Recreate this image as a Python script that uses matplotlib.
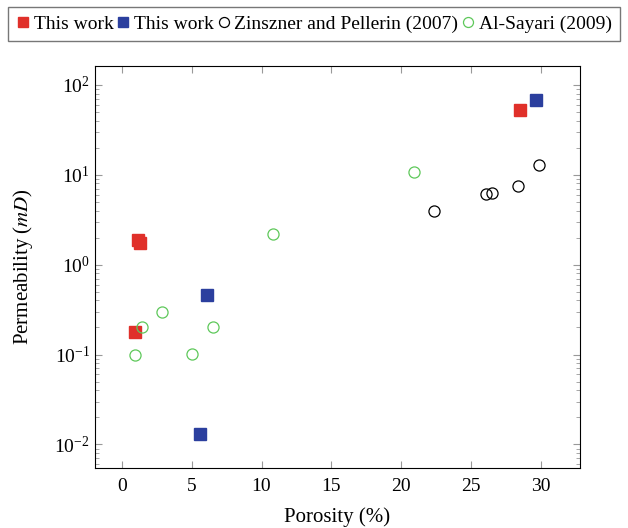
import matplotlib
matplotlib.use("Agg")
import matplotlib.pyplot as plt
from matplotlib.ticker import LogLocator, MultipleLocator

plt.rcParams['font.family'] = ['Liberation Serif', 'DejaVu Serif']
plt.rcParams['mathtext.fontset'] = 'stix'

# this work (red)
red_x = [1.15, 1.3, 0.9, 28.5]
red_y = [1.9, 1.75, 0.18, 52]
# this work (blue)
blue_x = [29.7, 6.1, 5.6]
blue_y = [68, 0.46, 0.013]
# Zinszner and Pellerin (2007)
zp_x = [22.4, 26.1, 26.5, 28.4, 29.9]
zp_y = [4.0, 6.1, 6.3, 7.5, 13.0]
# Al-Sayari (2009)
as_x = [0.9, 1.4, 2.9, 5.0, 6.5, 10.8, 20.9]
as_y = [0.1, 0.2, 0.3, 0.102, 0.2, 2.2, 10.8]

red = '#e0302a'
blue = '#2b3f9e'
green = '#5ec85a'

fig = plt.figure(figsize=(6.28, 5.28), dpi=100)
ax = fig.add_axes([0.151, 0.114, 0.773, 0.761])

ax.plot(red_x, red_y, 's', color=red, ms=8, label='This work')
ax.plot(blue_x, blue_y, 's', color=blue, ms=8, label='This work')
ax.plot(zp_x, zp_y, 'o', mfc='none', mec='black', ms=8, mew=0.9,
        label='Zinszner and Pellerin (2007)')
ax.plot(as_x, as_y, 'o', mfc='none', mec=green, ms=8, mew=0.9,
        label='Al-Sayari (2009)')

ax.set_yscale('log')
ax.set_xlim(-1.95, 32.85)
ax.set_ylim(10**-2.26, 10**2.21)
ax.xaxis.set_major_locator(MultipleLocator(5))
ax.yaxis.set_major_locator(LogLocator(base=10, numticks=10))
ax.yaxis.set_minor_locator(LogLocator(base=10, subs=range(2, 10), numticks=20))

ax.tick_params(which='both', direction='in', top=True, right=True,
               labelsize=14, color='#999999')
ax.tick_params(axis='x', pad=7)
ax.tick_params(which='major', length=5)
ax.tick_params(which='minor', length=3)
for s in ax.spines.values():
    s.set_linewidth(0.8)

ax.set_xlabel('Porosity (%)', fontsize=15, labelpad=9)
ax.set_ylabel('Permeability ($mD$)', fontsize=15, labelpad=14)

fig.legend(loc='upper center', bbox_to_anchor=(0.5, 0.997), ncol=4,
           fontsize=14, handlelength=0.7, handletextpad=0.2, columnspacing=0.15,
           fancybox=False, edgecolor='#555555', borderpad=0.4, borderaxespad=0.3,
           markerscale=0.9)

fig.savefig('out.png', dpi=100)
